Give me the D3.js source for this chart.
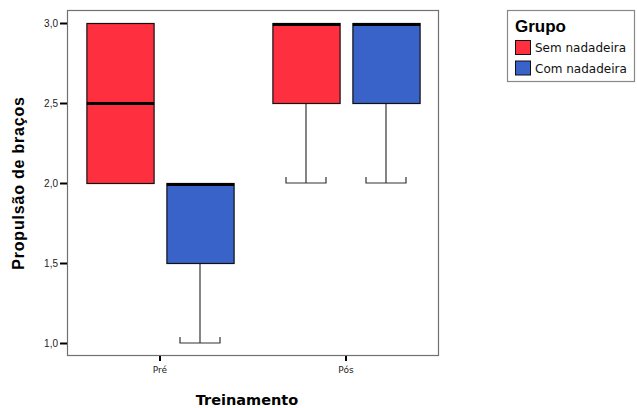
<!DOCTYPE html>
<html>
<head>
<meta charset="utf-8">
<script src="https://cdn.jsdelivr.net/npm/d3@7"></script>
<style>
  body { margin: 0; background: #fff; }
  svg { display: block; }
</style>
</head>
<body>
<svg width="637" height="408"></svg>
<script>
// The data:
var phases = ['Pré', 'Pós']
var groups = ['Sem nadadeira', 'Com nadadeira']
var groupColors = ['#fe3040', '#3a63c9']
var yTicks = [1.0, 1.5, 2.0, 2.5, 3.0]

// box stats per phase: [min, q1, median, q3, max]
var semStats = [[2.0, 2.0, 2.5, 3.0, 3.0], [2.0, 2.5, 3.0, 3.0, 3.0]]
var comStats = [[1.0, 1.5, 2.0, 2.0, 2.0], [2.0, 2.5, 3.0, 3.0, 3.0]]

var boxData = []
phases.forEach((p, i) => {
  boxData.push({ phase: p, group: groups[0], s: semStats[i] })
  boxData.push({ phase: p, group: groups[1], s: comStats[i] })
})

var svg = d3.select('svg')

// scales
let xScale = d3.scaleBand().domain(phases).range([67, 439])
let gScale = d3.scaleBand().domain(groups).range([-80, 80]).paddingInner(0.16).paddingOuter(0.08)
let colorScale = d3.scaleOrdinal().domain(groups).range(groupColors)
let yScale = d3.scaleLinear().domain([1.0, 3.0]).range([343, 23])

// plot frame
svg.append('rect')
  .attr('x', 67.5).attr('y', 10.5)
  .attr('width', 371).attr('height', 345)
  .attr('fill', 'none').attr('stroke', '#707070').attr('stroke-width', 1.2)

// boxes
let boxG = svg.selectAll('g.box')
  .data(boxData)
  .enter()
  .append('g')
  .attr('class', 'box')
  .attr('transform', (d) => 'translate(' + (xScale(d.phase) + xScale.bandwidth() / 2 + gScale(d.group)) + ',0)')

let bw = gScale.bandwidth()
let capW = 40
let cx = bw / 2

// whiskers
boxG.filter((d) => d.s[0] < d.s[1])
  .each(function (d) {
    let g = d3.select(this)
    g.append('line').attr('x1', cx).attr('x2', cx)
      .attr('y1', yScale(d.s[1])).attr('y2', yScale(d.s[0]))
      .attr('stroke', '#333').attr('stroke-width', 1.2)
    g.append('path')
      .attr('d', 'M' + (cx - capW / 2) + ',' + (yScale(d.s[0]) - 6) +
        'V' + yScale(d.s[0]) + 'H' + (cx + capW / 2) + 'V' + (yScale(d.s[0]) - 6))
      .attr('fill', 'none').attr('stroke', '#333').attr('stroke-width', 1.2)
  })

boxG.append('rect')
  .attr('x', 0.5)
  .attr('y', (d) => yScale(d.s[3]) + 0.5)
  .attr('width', bw)
  .attr('height', (d) => yScale(d.s[1]) - yScale(d.s[3]))
  .attr('fill', (d) => colorScale(d.group))
  .attr('stroke', '#111').attr('stroke-width', 1.2)

// medians
boxG.append('line')
  .attr('x1', 0.5).attr('x2', bw + 0.5)
  .attr('y1', (d) => yScale(d.s[2]) + (d.s[2] === d.s[3] ? 1.5 : 0.5))
  .attr('y2', (d) => yScale(d.s[2]) + (d.s[2] === d.s[3] ? 1.5 : 0.5))
  .attr('stroke', '#000').attr('stroke-width', 3)

// y axis
let yAxis = d3.axisLeft(yScale)
  .tickValues(yTicks)
  .tickSize(7)
  .tickPadding(2)
  .tickFormat((d) => d3.format('.1f')(d).replace('.', ','))

svg.append('g').attr('id', 'yAxisG')
  .attr('transform', 'translate(67,0)')
  .call(yAxis)
  .call((g) => g.select('.domain').remove())
  .call((g) => g.selectAll('.tick line').attr('stroke', '#000').attr('stroke-width', 2))
  .call((g) => g.selectAll('.tick text')
    .attr('font-family', 'Liberation Sans, Arial, sans-serif')
    .attr('font-size', 10).attr('fill', '#222'))

// x axis
let xAxis = d3.axisBottom(xScale).tickSize(5).tickPadding(6)

svg.append('g').attr('id', 'xAxisG')
  .attr('transform', 'translate(0,356)')
  .call(xAxis)
  .call((g) => g.select('.domain').remove())
  .call((g) => g.selectAll('.tick line').attr('stroke', '#000').attr('stroke-width', 2))
  .call((g) => g.selectAll('.tick text')
    .attr('font-family', 'DejaVu Sans, sans-serif')
    .attr('font-size', 9).attr('fill', '#222'))

// axis titles
svg.append('text')
  .attr('x', 247).attr('y', 405)
  .attr('text-anchor', 'middle')
  .attr('font-family', 'DejaVu Sans, sans-serif')
  .attr('font-weight', 'bold').attr('font-size', 14.5)
  .text('Treinamento')

svg.append('text')
  .attr('transform', 'translate(24,183) rotate(-90)')
  .attr('text-anchor', 'middle')
  .attr('font-family', 'Liberation Sans, Arial, sans-serif')
  .attr('font-weight', 'bold').attr('font-size', 16)
  .attr('letter-spacing', 0.8)
  .text('Propulsão de braços')

// legend
let legend = svg.append('g').attr('transform', 'translate(507,10)')
legend.append('rect')
  .attr('x', 0.5).attr('y', 0.5).attr('width', 127).attr('height', 71)
  .attr('fill', '#fff').attr('stroke', '#888').attr('stroke-width', 1.2)
legend.append('text')
  .attr('x', 8).attr('y', 22)
  .attr('font-family', 'Liberation Sans, Arial, sans-serif')
  .attr('font-weight', 'bold').attr('font-size', 17)
  .text('Grupo')

let items = legend.selectAll('g.item')
  .data(groups)
  .enter()
  .append('g')
  .attr('class', 'item')
  .attr('transform', (d, i) => 'translate(8,' + (30 + i * 20.5) + ')')
items.append('rect')
  .attr('x', 0.5).attr('y', 0.5).attr('width', 15).attr('height', 14)
  .attr('fill', (d) => colorScale(d)).attr('stroke', '#111')
items.append('text')
  .attr('x', 20).attr('y', 12)
  .attr('font-family', 'DejaVu Sans, sans-serif')
  .attr('font-size', 12).attr('fill', '#111')
  .text((d) => d)
</script>
</body>
</html>
